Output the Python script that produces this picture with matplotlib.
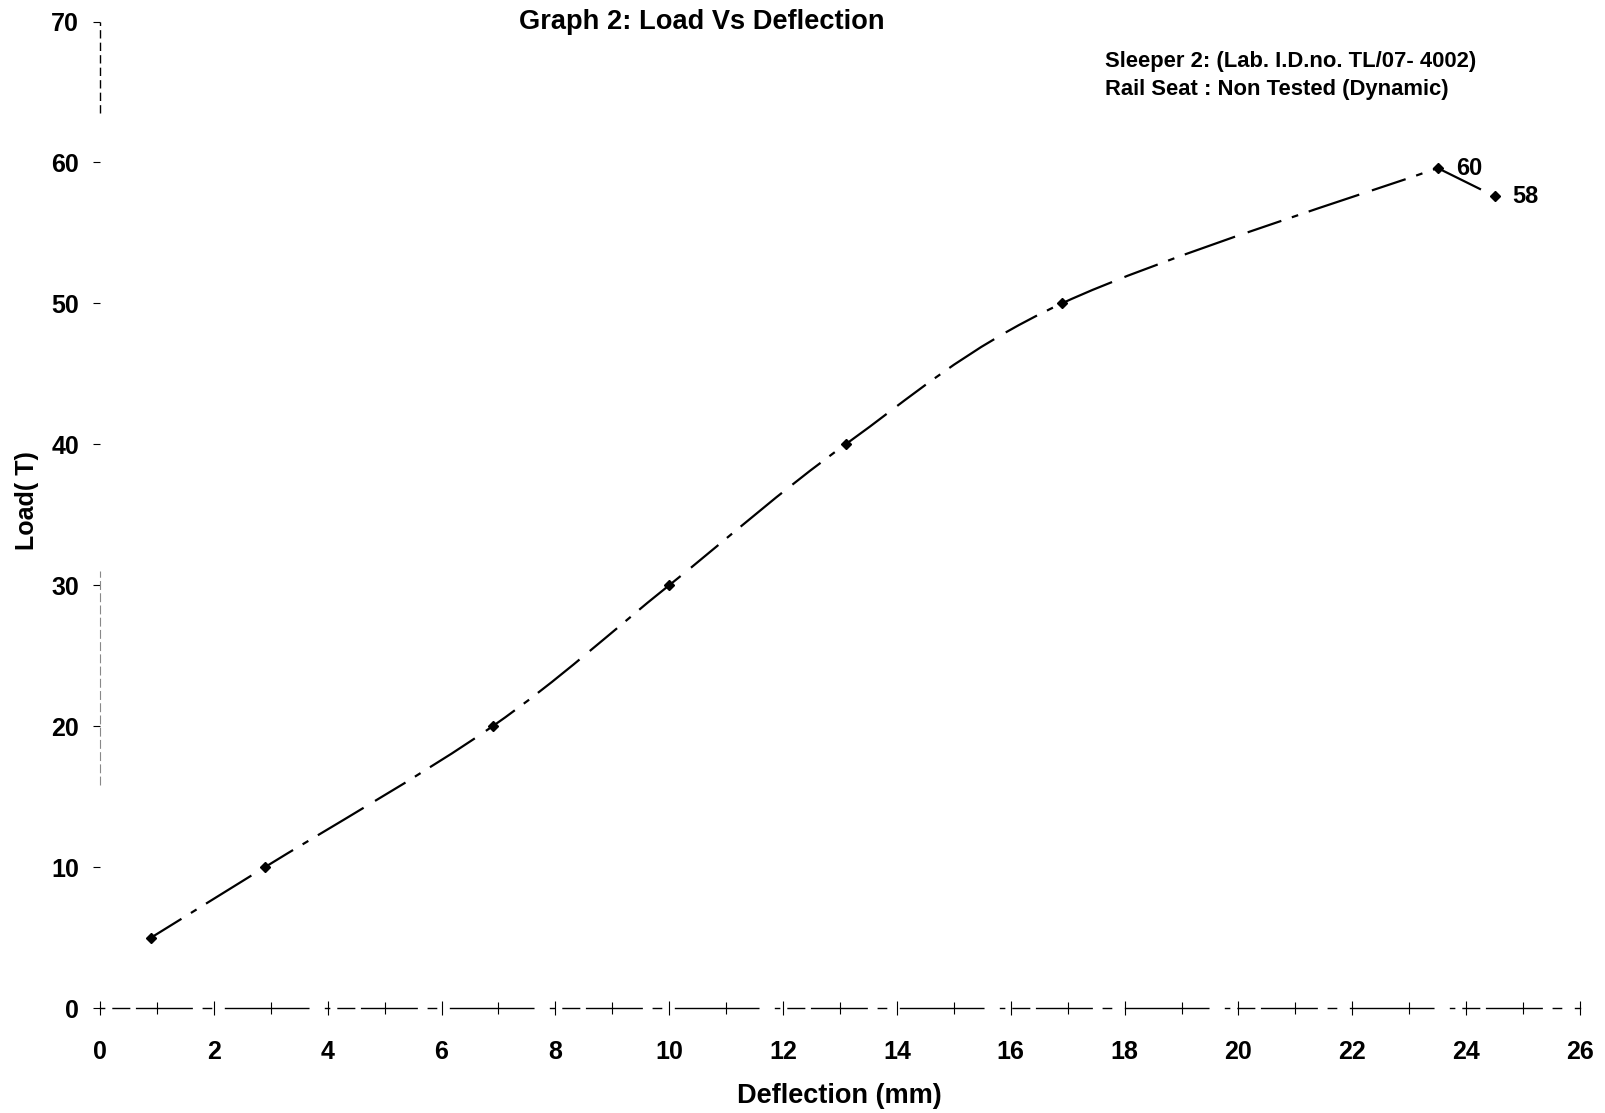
import numpy as np
import matplotlib
matplotlib.use("Agg")
import matplotlib.pyplot as plt
from matplotlib.path import Path
from matplotlib.patches import PathPatch
from matplotlib import font_manager

deflection = [0.9, 2.9, 6.9, 10.0, 13.1, 16.9, 23.5, 24.5]
load = [5, 10, 20, 30, 40, 50, 59.6, 57.6]
point_labels = {6: "60", 7: "58"}
x_ticks = list(range(0, 27, 2))
y_ticks = list(range(0, 71, 10))

names = {f.name for f in font_manager.fontManager.ttflist}
narrow = "Liberation Sans Narrow" if "Liberation Sans Narrow" in names else "Liberation Sans"

fig = plt.figure(figsize=(16.05, 11.13), dpi=100)
W, H = 1605, 1113
left, right, top, bottom = 100, 1580, 21.5, 1008
ax = fig.add_axes([left / W, 1 - bottom / H, (right - left) / W, (bottom - top) / H])
ax.set_xlim(0, 26)
ax.set_ylim(0, 70)

# smooth (Excel-style) bezier through data points; last segment straight
xs = np.array(deflection, float)
ys = np.array(load, float)
n = len(xs)
verts = [(xs[0], ys[0])]
codes = [Path.MOVETO]
for i in range(n - 1):
    p1 = np.array([xs[i], ys[i]])
    p2 = np.array([xs[i + 1], ys[i + 1]])
    if i == n - 2:
        verts += [tuple(p2)]
        codes += [Path.LINETO]
        continue
    p0 = np.array([xs[max(i - 1, 0)], ys[max(i - 1, 0)]])
    p3 = np.array([xs[i + 2], ys[i + 2]]) if i + 2 < n - 1 else p2
    c1 = p1 + (p2 - p0) / 6.0
    c2 = p2 - (p3 - p1) / 6.0
    verts += [tuple(c1), tuple(c2), tuple(p2)]
    codes += [Path.CURVE4] * 3
patch = PathPatch(Path(verts, codes), facecolor="none", edgecolor="black",
                  lw=1.6, linestyle=(0, (16, 5, 3, 5, 24, 6)))
ax.add_patch(patch)
ax.plot(deflection, load, linestyle="none", marker="D", markersize=5,
        color="black")
for i, txt in point_labels.items():
    ax.annotate(txt, (deflection[i], load[i]), xytext=(13, 0),
                textcoords="offset points", va="center", ha="left",
                fontsize=17, fontweight="bold", family="Liberation Sans")

for s in ["top", "right", "left"]:
    ax.spines[s].set_visible(False)
ax.spines["bottom"].set_linestyle((0, (3, 6, 12, 5, 40, 8, 6, 10, 60, 12)))
ax.spines["bottom"].set_linewidth(1.0)

yt = ax.get_yaxis_transform()
ax.plot([0, 0], [63.5, 70], transform=yt, color="black", lw=1.0,
        linestyle=(0, (6, 3)), clip_on=False)
ax.plot([0, 0], [15.8, 31], transform=yt, color="#888888", lw=0.8,
        linestyle=(0, (8, 3)), clip_on=False)

ax.set_xticks(x_ticks)
ax.set_xticks(range(1, 26, 2), minor=True)
ax.set_yticks(y_ticks)
ax.tick_params(axis="x", which="major", direction="inout", length=10, width=0.8,
               pad=18, labelsize=18)
ax.tick_params(axis="x", which="minor", direction="inout", length=8, width=0.8)
ax.tick_params(axis="y", direction="out", length=5, width=0.8, pad=10,
               labelsize=18)
for lab in ax.get_xticklabels() + ax.get_yticklabels():
    lab.set_family(narrow)
    lab.set_fontweight("bold")

fig.text(839 / W, 1 - 1096 / H, "Deflection (mm)", ha="center", va="center",
         fontsize=19.5, fontweight="bold", family="Liberation Sans")
fig.text(27 / W, 1 - 501 / H, "Load( T)", ha="center", va="center",
         rotation=90, fontsize=18, fontweight="bold", family="Liberation Sans")

fig.text(702 / W, 1 - 22 / H, "Graph 2: Load Vs Deflection", ha="center",
         va="center", fontsize=19.6, fontweight="bold", family="Liberation Sans")
fig.text(1105 / W, 1 - 62 / H, "Sleeper 2: (Lab. I.D.no. TL/07- 4002)",
         ha="left", va="center", fontsize=15.8, fontweight="bold",
         family="Liberation Sans")
fig.text(1105 / W, 1 - 90 / H, "Rail Seat : Non Tested (Dynamic)",
         ha="left", va="center", fontsize=15.8, fontweight="bold",
         family="Liberation Sans")

fig.savefig("out.png", dpi=100, facecolor="white")
